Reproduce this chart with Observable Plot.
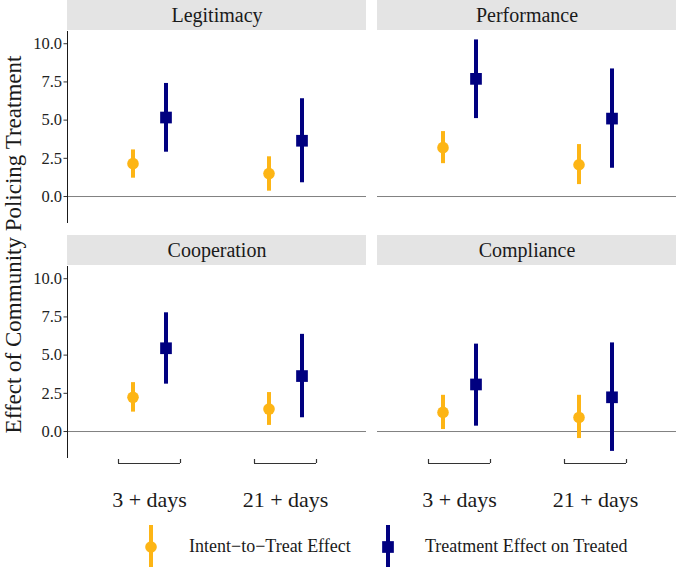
<!DOCTYPE html>
<html>
<head>
<meta charset="utf-8">
<script src="https://cdn.jsdelivr.net/npm/d3@7"></script>
<script src="https://cdn.jsdelivr.net/npm/@observablehq/plot@0.6"></script>
<style>
  body { margin: 0; background: white; }
  #chart svg { display: block; }
  #chart svg text { font-family: "Liberation Serif", serif; font-variant: normal; }
  #legend { display: block; }
</style>
</head>
<body>
<div id="chart"></div>
<svg id="legend" width="677" height="45"></svg>
<script>
// ---------- data ----------
const panels = ["Legitimacy", "Performance", "Cooperation", "Compliance"];
const panelCol = ["left", "right", "left", "right"];
const panelRow = ["top", "top", "bottom", "bottom"];
const cats = ["3 + days", "21 + days"];
const seriesNames = ["Intent\u2212to\u2212Treat Effect", "Treatment Effect on Treated"];

// [3 + days, 21 + days] per panel
const ittEst = [[2.15, 1.50], [3.20, 2.08], [2.24, 1.47], [1.25, 0.92]];
const ittLo  = [[1.20, 0.35], [2.15, 0.78], [1.27, 0.40], [0.13, -0.46]];
const ittHi  = [[3.05, 2.60], [4.25, 3.40], [3.20, 2.55], [2.37, 2.37]];
const totEst = [[5.17, 3.65], [7.70, 5.10], [5.45, 3.63], [3.08, 2.24]];
const totLo  = [[2.90, 0.90], [5.10, 1.85], [3.10, 0.90], [0.35, -1.30]];
const totHi  = [[7.40, 6.40], [10.25, 8.35], [7.77, 6.36], [5.72, 5.80]];

const yTicks = [0, 2.5, 5, 7.5, 10];
const yDomain = [-1.7, 10.8];
const yTitle = "Effect of Community Policing Treatment";

// ---------- styling / layout ----------
const serif = "Liberation Serif";
const orange = "#FDB515";
const navy = "#000080";
const stripFill = "#E4E4E4";
const W = 677, H = 522;
const mt = 31, mb = 65, ml = 67, mr = 0;
const panelH = 191, rowGap = 44, colGap = 11;
const stripH = 30;
const dodge = 16.5;
const bracketHalf = 31;

// ---------- tables ----------
const panelData = panels.map((p, i) => ({panel: p, col: panelCol[i], row: panelRow[i]}));
const itt = [], tot = [];
panels.forEach((p, i) => cats.forEach((c, j) => {
  itt.push({panel: p, col: panelCol[i], row: panelRow[i], cat: c, series: seriesNames[0], est: ittEst[i][j], lo: ittLo[i][j], hi: ittHi[i][j]});
  tot.push({panel: p, col: panelCol[i], row: panelRow[i], cat: c, series: seriesNames[1], est: totEst[i][j], lo: totLo[i][j], hi: totHi[i][j]});
}));
const bracketData = [];
panelData.filter(d => d.row === "bottom").forEach(d => cats.forEach(c => bracketData.push({col: d.col, row: d.row, cat: c})));

const facet = {fx: "col", fy: "row"};

const chart = Plot.plot({
  width: W, height: H,
  marginTop: mt, marginBottom: mb, marginLeft: ml, marginRight: mr,
  style: {fontFamily: serif, background: "white", color: "#1a1a1a", overflow: "visible"},
  fx: {domain: ["left", "right"], paddingInner: colGap / ((W - ml - mr - colGap) / 2 + colGap), paddingOuter: 0, axis: null},
  fy: {domain: ["top", "bottom"], paddingInner: rowGap / (panelH + rowGap), paddingOuter: 0, axis: null},
  x: {type: "band", domain: cats, paddingInner: 0.547, paddingOuter: 0.367, axis: null},
  y: {domain: yDomain, axis: null},
  marks: [
    Plot.rect(panelData, {...facet, fill: stripFill, insetBottom: panelH - stripH, dy: -(stripH + 1)}),
    Plot.text(panelData, {...facet, text: "panel", frameAnchor: "top", lineAnchor: "middle", dy: -16, fontSize: 20, fontFamily: serif, fill: "#1a1a1a"}),
    Plot.ruleY([0], {stroke: "#808080", strokeWidth: 1}),
    Plot.frame({anchor: "left", facetAnchor: "left", stroke: "#1a1a1a"}),
    Plot.axisY({ticks: yTicks, tickFormat: d3.format(".1f"), tickSize: 3.5, tickPadding: 2, fontSize: 16.5, fontFamily: serif, label: null, facetAnchor: "left", stroke: "#333", fill: "#222"}),
    Plot.ruleX(itt, {...facet, x: "cat", y1: "lo", y2: "hi", stroke: orange, strokeWidth: 4, dx: -dodge}),
    Plot.dot(itt, {...facet, x: "cat", y: "est", fill: orange, r: 5.8, dx: -dodge}),
    Plot.ruleX(tot, {...facet, x: "cat", y1: "lo", y2: "hi", stroke: navy, strokeWidth: 4, dx: dodge}),
    Plot.dot(tot, {...facet, x: "cat", y: "est", fill: navy, symbol: "square", r: 6.6, dx: dodge}),
    // category brackets
    Plot.tickY(bracketData, {...facet, x: "cat", y: yDomain[0], dy: 6, stroke: "#333", strokeWidth: 1.2}),
    Plot.ruleX(bracketData, {...facet, x: "cat", y1: yDomain[0], y2: yDomain[0], dx: -bracketHalf, dy: 6, insetTop: -4, stroke: "#333", strokeWidth: 1.2}),
    Plot.ruleX(bracketData, {...facet, x: "cat", y1: yDomain[0], y2: yDomain[0], dx: bracketHalf, dy: 6, insetTop: -4, stroke: "#333", strokeWidth: 1.2}),
    Plot.text(bracketData, {...facet, x: "cat", text: "cat", frameAnchor: "bottom", lineAnchor: "middle", dy: 42, fontSize: 22, fontFamily: serif, fill: "#1a1a1a"}),
    Plot.text([yTitle], {text: d => d, frameAnchor: "left", textAnchor: "middle", lineAnchor: "middle", rotate: -90, dx: -54, fontSize: 23, fontFamily: serif, fill: "#1a1a1a", facet: "super"})
  ]
});
document.getElementById("chart").appendChild(chart);

// ---------- legend ----------
const lg = d3.select("#legend").style("font-family", serif);
const items = [
  {name: seriesNames[0], color: orange, shape: "circle", gx: 151, tx: 189},
  {name: seriesNames[1], color: navy, shape: "square", gx: 388, tx: 425}
];
items.forEach(it => {
  lg.append("line").attr("x1", it.gx).attr("x2", it.gx).attr("y1", 3).attr("y2", 45)
    .attr("stroke", it.color).attr("stroke-width", 4);
  if (it.shape === "circle") {
    lg.append("circle").attr("cx", it.gx).attr("cy", 25).attr("r", 5.8).attr("fill", it.color);
  } else {
    lg.append("rect").attr("x", it.gx - 5.85).attr("y", 25 - 5.85).attr("width", 11.7).attr("height", 11.7).attr("fill", it.color);
  }
  lg.append("text").attr("x", it.tx).attr("y", 30).attr("font-size", 18).attr("fill", "#1a1a1a").text(it.name);
});
</script>
</body>
</html>
